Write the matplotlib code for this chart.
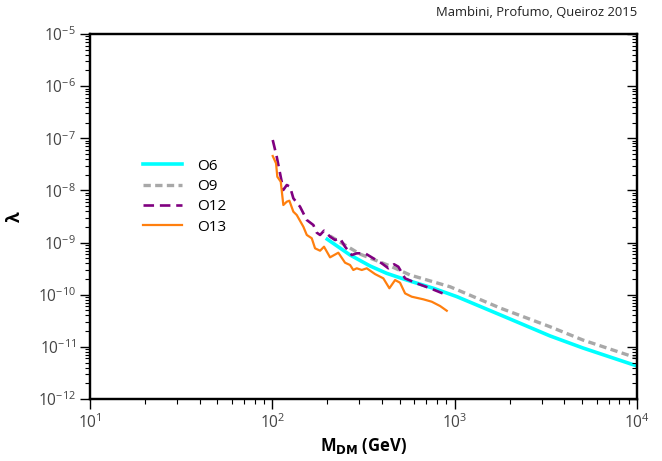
import matplotlib
matplotlib.use("Agg")
import matplotlib.pyplot as plt
from matplotlib.ticker import LogLocator, NullFormatter

plt.rcParams['font.family'] = ['Open Sans', 'DejaVu Sans']
plt.rcParams['mathtext.default'] = 'regular'

# ---- data ----
o6_x = [200, 267, 344, 424, 546, 764, 1027, 1775, 3336, 5058, 10000]
o6_y = [1.16e-9, 5.77e-10, 3.55e-10, 2.57e-10, 1.91e-10, 1.33e-10, 9.2e-11,
        4.12e-11, 1.62e-11, 9.5e-12, 4.3e-12]

o9_x = [207, 303, 443, 569, 944, 1775, 3336, 5058, 10000]
o9_y = [1.34e-9, 6.0e-10, 3.55e-10, 2.39e-10, 1.42e-10, 5.56e-11, 2.43e-11,
        1.35e-11, 6.1e-12]

o12_x = [100.5, 105.7, 110.2, 114.9, 120, 125, 130.4, 141.9, 154.5, 167.9, 175.2,
         182.7, 192.1, 207.3, 220.8, 235.1, 250.5, 272.7, 290.4, 322.3, 358.1,
         398.3, 432.9, 465.3, 491, 534.6, 619.5, 732.8, 905]
o12_y = [9.27e-8, 4.43e-8, 2.13e-8, 1.02e-8, 1.27e-8, 1.18e-8, 7.06e-9, 4.87e-9,
         2.71e-9, 2.17e-9, 1.55e-9, 1.40e-9, 1.69e-9, 1.30e-9, 1.12e-9, 1.21e-9,
         8.33e-10, 5.77e-10, 6.22e-10, 6.22e-10, 4.99e-10, 4.0e-10, 3.21e-10,
         3.83e-10, 3.44e-10, 2.06e-10, 1.65e-10, 1.33e-10, 9.87e-11]

o13_x = [100.5, 104.8, 106.5, 111.2, 114.9, 120, 124, 130.4, 136.1, 148, 154.5,
         164.5, 171.5, 182.7, 192.1, 207.3, 230.1, 250.5, 266.9, 278, 290.4,
         309.4, 329.5, 365.7, 406.3, 438.5, 471.3, 501.6, 534.6, 581.5, 673.3,
         748.6, 831.8, 905]
o13_y = [4.57e-8, 3.31e-8, 1.83e-8, 1.47e-8, 5.25e-9, 6.08e-9, 6.35e-9, 3.91e-9,
         3.38e-9, 2.01e-9, 1.40e-9, 1.21e-9, 7.76e-10, 6.98e-10, 8.33e-10,
         5.21e-10, 6.39e-10, 4.11e-10, 3.71e-10, 2.98e-10, 3.21e-10, 2.98e-10,
         3.21e-10, 2.49e-10, 2.06e-10, 1.33e-10, 1.91e-10, 1.70e-10, 1.06e-10,
         9.16e-11, 8.16e-11, 7.34e-11, 6.07e-11, 4.93e-11]

labels = ['O6', 'O9', 'O12', 'O13']

fig = plt.figure(figsize=(6.62, 4.61), dpi=100)
ax = fig.add_axes([90/662, 1-399/461, (637-90)/662, (399-34)/461])

ax.plot(o6_x, o6_y, color='#00ffff', lw=2.6, label=labels[0], zorder=2)
ax.plot(o9_x, o9_y, color='#a8a8a8', lw=2.4, ls=(0, (2.2, 1.3)), label=labels[1], zorder=3)
ax.plot(o12_x, o12_y, color='#800080', lw=1.9, ls=(0, (4, 2.2)), label=labels[2], zorder=4)
ax.plot(o13_x, o13_y, color='#ff7f0e', lw=1.6, label=labels[3], zorder=5)

ax.set_xscale('log')
ax.set_yscale('log')
ax.set_xlim(10, 1e4)
ax.set_ylim(1e-12, 1e-5)

ax.xaxis.set_major_locator(LogLocator(base=10, numticks=10))
ax.xaxis.set_minor_locator(LogLocator(base=10, subs=range(2, 10), numticks=20))
ax.yaxis.set_major_locator(LogLocator(base=10, numticks=20))
ax.yaxis.set_minor_locator(LogLocator(base=10, subs=range(2, 10), numticks=40))
ax.xaxis.set_minor_formatter(NullFormatter())
ax.yaxis.set_minor_formatter(NullFormatter())

for s in ax.spines.values():
    s.set_linewidth(1.6)

ax.tick_params(axis='both', which='major', direction='out', length=7, width=1.0,
               labelsize=11.2, labelcolor='#444444', pad=3)
ax.tick_params(axis='both', which='minor', direction='out', length=3.5, width=0.8)
ax.tick_params(top=False, right=False)

ax2 = ax.twinx()
ax2.set_yscale('log')
ax2.set_ylim(1e-12, 1e-5)
ax2.yaxis.set_major_locator(LogLocator(base=10, numticks=20))
ax2.yaxis.set_minor_locator(LogLocator(base=10, subs=range(2, 10), numticks=40))
ax2.tick_params(axis='y', which='major', direction='in', length=7, width=1.0, labelright=False)
ax2.tick_params(axis='y', which='minor', direction='in', length=3.5, width=0.8)
for s in ax2.spines.values():
    s.set_linewidth(1.6)

ax.set_xlabel(r'M$_\mathbf{DM}$ (GeV)', fontsize=12, fontweight='bold', labelpad=3)
ax.set_ylabel('λ', fontsize=12.5, fontweight='bold', labelpad=10)

leg = ax.legend(loc='upper left', bbox_to_anchor=(0.085, 0.675), frameon=False,
                fontsize=11, handlelength=2.6, handletextpad=1.0, labelspacing=0.35,
                borderaxespad=0)

fig.text(637/662, 1-12/461, 'Mambini, Profumo, Queiroz 2015', ha='right', va='center',
         fontsize=9.4, color='#222222')

fig.savefig('out.png', dpi=100)
